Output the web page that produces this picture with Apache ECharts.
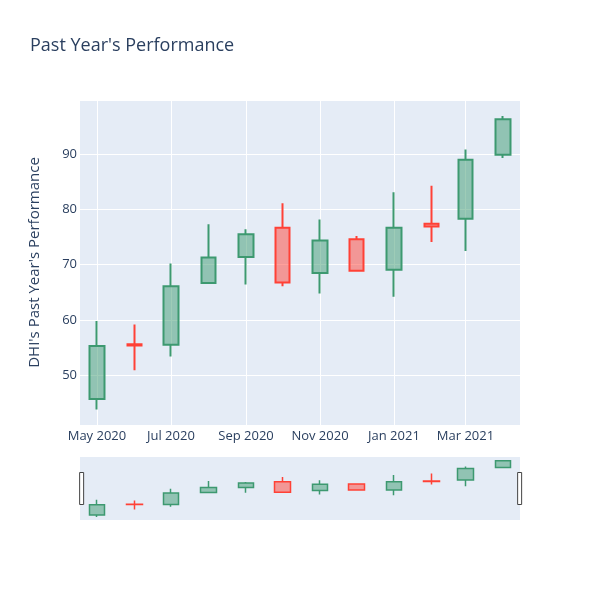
<!DOCTYPE html>
<html>
<head>
<meta charset="utf-8">
<script src="https://cdn.jsdelivr.net/npm/echarts@6/dist/echarts.min.js"></script>
<style>
  html, body { margin: 0; padding: 0; background: #fff; }
  #main { width: 600px; height: 600px; }
</style>
</head>
<body>
<div id="main"></div>
<script>
// monthly candles, DHI
var dates = ['2020-05-01', '2020-06-01', '2020-07-01', '2020-08-01', '2020-09-01', '2020-10-01',
  '2020-11-01', '2020-12-01', '2021-01-01', '2021-02-01', '2021-03-01', '2021-04-01']
var opens = [45.7, 55.6, 55.5, 66.7, 71.4, 76.7, 68.5, 74.6, 69.1, 77.4, 78.3, 89.9]
var closes = [55.3, 55.4, 66.1, 71.3, 75.5, 66.8, 74.4, 68.9, 76.7, 76.9, 89.0, 96.3]
var lows = [43.8, 50.9, 53.4, 66.7, 66.4, 66.1, 64.8, 68.8, 64.2, 74.1, 72.5, 89.3]
var highs = [59.8, 59.2, 70.2, 77.3, 76.4, 81.1, 78.2, 75.2, 83.1, 84.3, 90.85, 96.9]
var xTicks = ['2020-05-01', '2020-07-01', '2020-09-01', '2020-11-01', '2021-01-01', '2021-03-01']

var textColor = '#2a3f5f'
var upColor = '#3D9970'
var downColor = '#FF4136'

let candles = []
for (let i = 0; i < dates.length; i++) {
  candles.push([dates[i], opens[i], closes[i], lows[i], highs[i]])
}

let myChart = echarts.init(document.getElementById('main'))

let candleStyle = function (bw) {
  return {
    color: 'rgba(61, 153, 112, 0.5)',
    color0: 'rgba(255, 65, 54, 0.5)',
    borderColor: upColor,
    borderColor0: downColor,
    borderWidth: bw
  }
}

let option = {
  animation: false,
  textStyle: { fontFamily: 'Open Sans' },
  title: {
    text: "Past Year's Performance",
    left: 25,
    top: 32,
    textStyle: { fontSize: 18, fontWeight: 'normal', color: textColor, fontFamily: 'Open Sans' }
  },
  grid: [{
    left: 80, top: 100, width: 440, height: 325,
    show: true, backgroundColor: '#E5ECF6', borderWidth: 0
  }, {
    left: 80, top: 457, width: 440, height: 63,
    show: true, backgroundColor: '#E5ECF6', borderWidth: 0
  }],
  xAxis: [{
    type: 'time',
    gridIndex: 0,
    min: '2020-04-17',
    max: '2021-04-15',
    axisLine: { show: false },
    axisTick: { show: false, customValues: xTicks },
    axisLabel: {
      customValues: xTicks,
      formatter: '{MMM} {yyyy}',
      color: textColor,
      fontSize: 13,
      margin: 5,
      hideOverlap: false
    },
    splitLine: { show: true, lineStyle: { color: '#fff', width: 1 } }
  }, {
    type: 'time',
    gridIndex: 1,
    min: '2020-04-17',
    max: '2021-04-15',
    axisLine: { show: false },
    axisTick: { show: false },
    axisLabel: { show: false },
    splitLine: { show: false }
  }],
  yAxis: [{
    type: 'value',
    gridIndex: 0,
    min: 41,
    max: 99.8,
    name: "DHI's Past Year's Performance",
    nameLocation: 'middle',
    nameGap: 38,
    nameTextStyle: { color: textColor, fontSize: 15 },
    axisLine: { show: false },
    axisTick: { show: false },
    axisLabel: { color: textColor, fontSize: 13, margin: 3, showMinLabel: false, showMaxLabel: false },
    splitLine: { lineStyle: { color: '#fff', width: 1 } }
  }, {
    type: 'value',
    gridIndex: 1,
    min: 41,
    max: 99.8,
    axisLine: { show: false },
    axisTick: { show: false },
    axisLabel: { show: false },
    splitLine: { show: false }
  }],
  dataZoom: [{
    type: 'slider',
    xAxisIndex: 0,
    filterMode: 'none',
    start: 0,
    end: 100,
    left: 80,
    top: 457,
    width: 440,
    height: 63,
    showDetail: false,
    showDataShadow: false,
    brushSelect: false,
    moveHandleSize: 0,
    backgroundColor: 'rgba(0,0,0,0)',
    fillerColor: 'rgba(0,0,0,0)',
    borderColor: 'rgba(0,0,0,0)',
    handleIcon: 'path://M0,0 L4,0 L4,32 L0,32 Z',
    handleSize: 32,
    handleStyle: { color: '#fff', borderColor: '#444', borderWidth: 1 }
  }],
  series: [{
    name: 'DHI',
    type: 'candlestick',
    xAxisIndex: 0,
    yAxisIndex: 0,
    barWidth: 15,
    encode: { x: 0, y: [1, 2, 3, 4] },
    itemStyle: candleStyle(2),
    data: candles
  }, {
    name: 'DHI mini',
    type: 'candlestick',
    xAxisIndex: 1,
    yAxisIndex: 1,
    barWidth: 16,
    encode: { x: 0, y: [1, 2, 3, 4] },
    itemStyle: candleStyle(1.5),
    data: candles
  }]
}
myChart.setOption(option)
window.addEventListener('resize', function () {
  myChart.resize()
})
</script>
</body>
</html>
